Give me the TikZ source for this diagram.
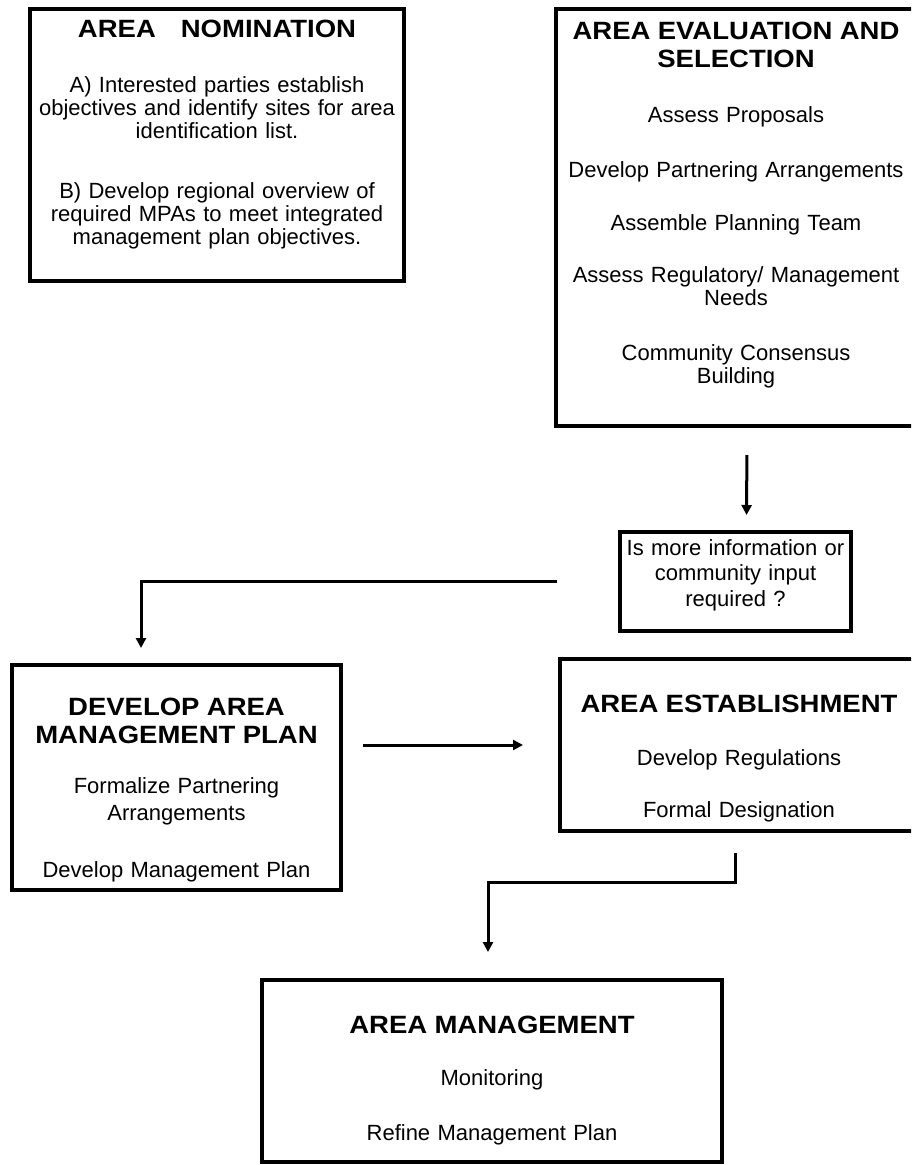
\documentclass[tikz,border=0pt]{standalone}
\usepackage{fontspec}
\setmainfont{Liberation Sans}
\newfontfamily\headfont[FakeStretch=1.1]{Liberation Sans}
\usetikzlibrary{arrows.meta}
\newcommand\hd[1]{{\headfont\bfseries\fontsize{25}{23}\selectfont #1}}

\begin{document}
\begin{tikzpicture}[x=1pt,y=-1pt,
  box/.style={draw,line width=4.5pt,inner sep=0pt,outer sep=0pt,align=center,
    anchor=base west,font=\fontsize{22}{23}\selectfont},
  flow/.style={line width=3pt,-{Triangle[width=10pt,length=10pt]}}]
  \clip (0,0) rectangle (911,1165);

  \node[box,text width=374pt,text height=28pt,text depth=244pt] (nom) at (30,37)
    {\hd{AREA\hspace{1em}NOMINATION}\\[32pt]
     A) Interested parties establish\\ objectives and identify sites for area\\ identification list.\\[37pt]
     B) Develop regional overview of\\ required MPAs to meet integrated\\ management plan objectives.};
  \node[box,text width=360pt,text height=30pt,text depth=387pt] (eval) at (556,39)
    {\hd{AREA EVALUATION AND}\\[5pt]\hd{SELECTION}\\[32pt]
     Assess Proposals\\[32pt] Develop Partnering Arrangements\\[30pt] Assemble Planning Team\\[29pt]
     Assess Regulatory/ Management\\ Needs\\[32pt] Community Consensus\\ Building};
  \node[box,text width=231pt,text height=23pt,text depth=76pt] (query) at (620,555)
    {Is more information or\\[2.5pt] community input\\[3pt] required ?};
  \node[box,text width=329pt,text height=50pt,text depth=175pt] (plan) at (12,715)
    {\hd{DEVELOP AREA}\\[5pt]\hd{MANAGEMENT PLAN}\\[27pt]
     Formalize Partnering\\[4pt] Arrangements\\[34pt] Develop Management Plan};
  \node[box,text width=358pt,text height=53pt,text depth=119pt] (estab) at (560,712)
    {\hd{AREA ESTABLISHMENT}\\[30pt] Develop Regulations\\[29pt] Formal Designation};
  \node[box,text width=460pt,text height=53pt,text depth=129pt] (mgmt) at (262,1033)
    {\hd{AREA MANAGEMENT}\\[29pt] Monitoring\\[32pt] Refine Management Plan};

  \draw[flow,shorten <=29pt,shorten >=17pt] ([xshift=11pt]eval.south) -- ([xshift=11pt]query.north);
  \draw[flow,shorten <=63pt,shorten >=17pt] (query.west) -| ([xshift=-35.5pt]plan.north);
  \draw[flow,shorten <=22pt,shorten >=37pt] (plan.east |- estab.west) -- (estab.west);
  \draw[flow,shorten <=22pt,shorten >=28pt] ([xshift=-4pt]estab.south) -- ++(0,51) -| ([xshift=-4pt]mgmt.north);
\end{tikzpicture}
\end{document}
